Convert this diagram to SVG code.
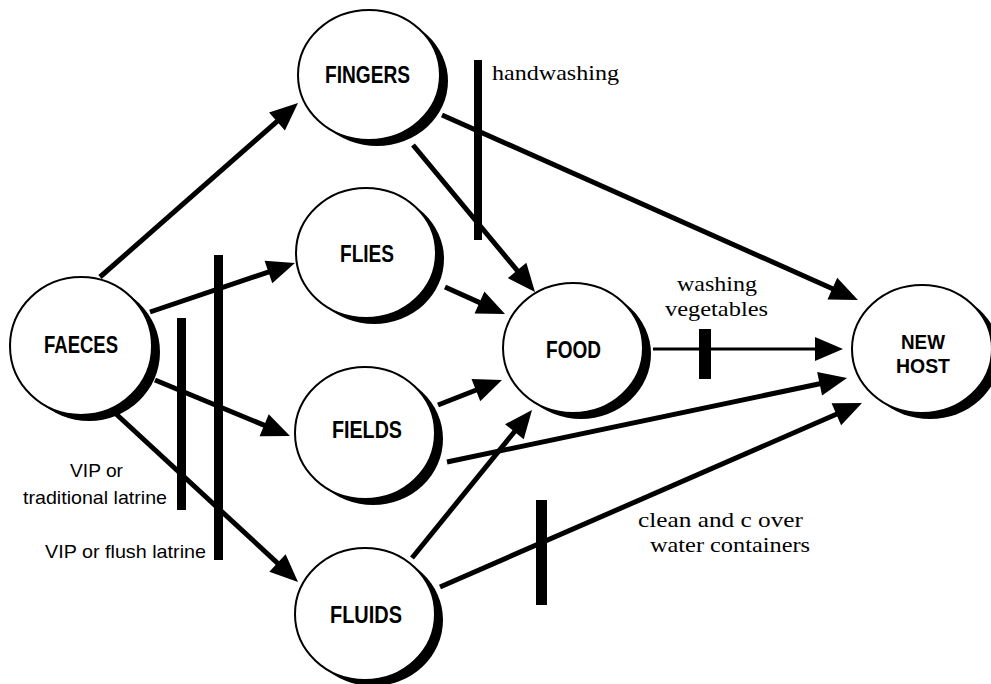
<svg xmlns="http://www.w3.org/2000/svg" width="991" height="684" viewBox="0 0 991 684">
<style>
.bg{fill:#fff}
.sh{fill:#000}
.nd{fill:#fff;stroke:#000;stroke-width:2}
.nt{font-family:"Liberation Sans Narrow","Liberation Sans",Arial,sans-serif;font-weight:bold;font-size:24px;fill:#000}
.nh{font-size:20px}
.ser{font-family:"Liberation Serif","Times New Roman",serif;font-size:21px;fill:#000}
.hw{font-size:22px}
.san{font-family:"Liberation Sans",Arial,sans-serif;font-size:19px;fill:#000}
.ar{stroke:#000;stroke-width:5;fill:none;marker-end:url(#ah)}
.ar2{stroke:#000;stroke-width:3;fill:none;marker-end:url(#ah)}
.bar{fill:#000}
</style>
<defs>
<marker id="ah" markerUnits="userSpaceOnUse" markerWidth="32" markerHeight="28" viewBox="0 -14 30 28" refX="10" refY="0" orient="auto">
<path d="M0,-12 L28,0 L0,12 z" fill="#000"/>
</marker>
</defs>
<rect class="bg" x="0" y="0" width="991" height="684"/>

<g id="connectors">
<line class="ar" x1="100" y1="277" x2="284.5" y2="114.9"/>
<line class="ar" x1="150" y1="312" x2="277.9" y2="268.8"/>
<line class="ar" x1="155" y1="380" x2="273.4" y2="429.1"/>
<line class="ar" x1="115" y1="413" x2="284.8" y2="569.8"/>
<line class="ar" x1="413" y1="145" x2="523.5" y2="278.1"/>
<line class="ar" x1="442" y1="115" x2="841.5" y2="292.7"/>
<line class="ar" x1="445" y1="287" x2="488.6" y2="306.6"/>
<line class="ar" x1="438" y1="405" x2="485.2" y2="386.5"/>
<line class="ar" x1="447" y1="462" x2="829.4" y2="381.7"/>
<line class="ar" x1="412" y1="558" x2="520.7" y2="424.0"/>
<line class="ar" x1="440" y1="587" x2="845.5" y2="410.2"/>
<line class="ar2" x1="653" y1="349" x2="825" y2="349"/>
</g>

<g id="barriers">
<rect class="bar" x="474" y="60" width="8" height="180"/>
<rect class="bar" x="214" y="255" width="9" height="305"/>
<rect class="bar" x="177" y="318" width="9" height="192"/>
<rect class="bar" x="699" y="329" width="12" height="50"/>
<rect class="bar" x="536" y="500" width="11" height="105"/>
</g>

<g id="faeces">
<ellipse class="sh" cx="89" cy="352" rx="71" ry="69"/>
<ellipse class="nd" cx="81" cy="346" rx="71" ry="69"/>
<text class="nt" x="44" y="353" textLength="74" lengthAdjust="spacingAndGlyphs">FAECES</text>
</g>
<g id="fingers">
<ellipse class="sh" cx="377" cy="81" rx="71" ry="65"/>
<ellipse class="nd" cx="369" cy="75" rx="71" ry="65"/>
<text class="nt" x="325" y="83" textLength="85" lengthAdjust="spacingAndGlyphs">FINGERS</text>
</g>
<g id="flies">
<ellipse class="sh" cx="374" cy="259" rx="70" ry="65"/>
<ellipse class="nd" cx="366" cy="253" rx="70" ry="65"/>
<text class="nt" x="340" y="262" textLength="54" lengthAdjust="spacingAndGlyphs">FLIES</text>
</g>
<g id="fields">
<ellipse class="sh" cx="373" cy="439" rx="70" ry="66"/>
<ellipse class="nd" cx="365" cy="433" rx="70" ry="66"/>
<text class="nt" x="332" y="438" textLength="70" lengthAdjust="spacingAndGlyphs">FIELDS</text>
</g>
<g id="fluids">
<ellipse class="sh" cx="373" cy="620" rx="70" ry="66"/>
<ellipse class="nd" cx="365" cy="614" rx="70" ry="66"/>
<text class="nt" x="330" y="623" textLength="72" lengthAdjust="spacingAndGlyphs">FLUIDS</text>
</g>
<g id="food">
<ellipse class="sh" cx="581" cy="354" rx="70" ry="65"/>
<ellipse class="nd" cx="573" cy="348" rx="70" ry="65"/>
<text class="nt" x="546" y="358" textLength="55" lengthAdjust="spacingAndGlyphs">FOOD</text>
</g>
<g id="newhost">
<ellipse class="sh" cx="930" cy="355" rx="70" ry="64"/>
<ellipse class="nd" cx="922" cy="349" rx="70" ry="64"/>
<text class="nt nh" x="901" y="349" textLength="44" lengthAdjust="spacingAndGlyphs">NEW</text>
<text class="nt nh" x="896" y="373" textLength="54" lengthAdjust="spacingAndGlyphs">HOST</text>
</g>

<g id="labels">
<text class="ser hw" x="492" y="80" textLength="127" lengthAdjust="spacingAndGlyphs">handwashing</text>
<text class="ser" x="677" y="291" textLength="80" lengthAdjust="spacingAndGlyphs">washing</text>
<text class="ser" x="665" y="316" textLength="103" lengthAdjust="spacingAndGlyphs">vegetables</text>
<text class="ser" x="638" y="527" textLength="165" lengthAdjust="spacingAndGlyphs">clean and c over</text>
<text class="ser" x="650" y="552" textLength="160" lengthAdjust="spacingAndGlyphs">water containers</text>
<text class="san" x="70" y="477" textLength="53" lengthAdjust="spacingAndGlyphs">VIP or</text>
<text class="san" x="23" y="504" textLength="144" lengthAdjust="spacingAndGlyphs">traditional latrine</text>
<text class="san" x="45" y="558" textLength="161" lengthAdjust="spacingAndGlyphs">VIP or flush latrine</text>
</g>
</svg>
